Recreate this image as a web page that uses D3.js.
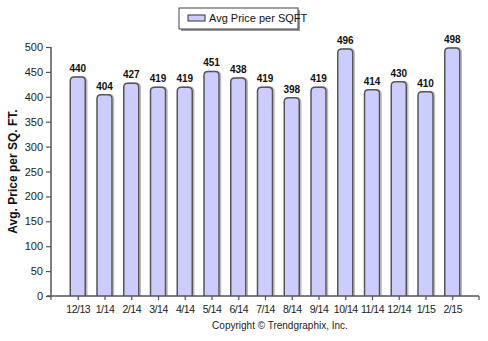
<!DOCTYPE html>
<html><head><meta charset="utf-8">
<script src="https://cdn.jsdelivr.net/npm/d3@7"></script>
<style>body{margin:0;background:#fff}svg{display:block}text{font-family:"Liberation Sans",Arial,sans-serif}</style>
</head><body>
<svg id="c" width="488" height="341"></svg>
<script>
const categories = ["12/13","1/14","2/14","3/14","4/14","5/14","6/14","7/14","8/14","9/14","10/14","11/14","12/14","1/15","2/15"];
const values = [440,404,427,419,419,451,438,419,398,419,496,414,430,410,498];
const yTicks = [0,50,100,150,200,250,300,350,400,450,500];
const seriesName = "Avg Price per SQFT";
const yTitle = "Avg. Price per SQ. FT.";
const copyright = "Copyright \u00A9 Trendgraphix, Inc.";

const svg = d3.select("#c");
const x0 = 51, x1 = 479, yBottom = 296, yTop = 47;
const x = d3.scalePoint().domain(categories).range([x0, x1]).padding(1);
const y = d3.scaleLinear().domain([0,500]).range([yBottom, yTop]);
const axisColor = "#555";

// bars
const bw = 15, r = 4;
function barPath(cx, v){
  const l = cx - bw/2, rr = cx + bw/2, t = y(v), b = y(0);
  return `M${l},${b}V${t+r}Q${l},${t} ${l+r},${t}H${rr-r}Q${rr},${t} ${rr},${t+r}V${b}`;
}
svg.append("g").selectAll("path").data(values).join("path")
  .attr("d",(d,i)=>barPath(x(categories[i])+1.5,d))
  .attr("fill","none").attr("stroke","#bbb").attr("stroke-width",1.5);
svg.append("g").selectAll("path").data(values).join("path")
  .attr("d",(d,i)=>barPath(x(categories[i]),d))
  .attr("fill","#ccccff").attr("stroke","#555").attr("stroke-width",1.5);

// value labels
svg.append("g").selectAll("text").data(values).join("text")
  .attr("x",(d,i)=>x(categories[i])).attr("y",d=>y(d)-5)
  .attr("text-anchor","middle").attr("font-size",10).attr("font-weight","bold").attr("fill","#111")
  .text(d=>d);

// y axis
const ya = svg.append("g").attr("transform",`translate(${x0},0)`)
  .call(d3.axisLeft(y).tickValues(yTicks).tickSize(5).tickPadding(3));
ya.select(".domain").attr("stroke",axisColor).attr("stroke-width",1.5).attr("d",`M0,${yBottom}V${yTop}`);
ya.selectAll(".tick line").attr("stroke",axisColor).attr("stroke-width",1.2);
ya.selectAll(".tick text").attr("font-size",11).attr("fill","#222").style("font-family","'Liberation Sans',Arial,sans-serif");

// x axis
const xa = svg.append("g").attr("transform",`translate(0,${yBottom})`)
  .call(d3.axisBottom(x).tickSize(4).tickPadding(6));
xa.select(".domain").attr("stroke",axisColor).attr("stroke-width",1.5).attr("d",`M${x0-4},0H${x1}`);
xa.selectAll(".tick line").attr("stroke",axisColor).attr("stroke-width",1.2);
xa.selectAll(".tick text").attr("font-size",10.5).attr("letter-spacing","-0.5px").attr("fill","#222").style("font-family","'Liberation Sans',Arial,sans-serif");
xa.append("line").attr("x1",x0).attr("x2",x0).attr("y1",0).attr("y2",4).attr("stroke",axisColor).attr("stroke-width",1.2);
xa.append("line").attr("x1",x1).attr("x2",x1).attr("y1",0).attr("y2",4).attr("stroke",axisColor).attr("stroke-width",1.2);

// y title
svg.append("text").attr("transform",`translate(17,${(yTop+yBottom)/2}) rotate(-90)`)
  .attr("text-anchor","middle").attr("font-size",12).attr("font-weight","bold").attr("fill","#111")
  .text(yTitle);

// legend
const lg = svg.append("g");
lg.append("rect").attr("x",181).attr("y",10).attr("width",119).attr("height",21).attr("fill","#999");
lg.append("rect").attr("x",179).attr("y",8).attr("width",119).attr("height",21).attr("fill","#fff").attr("stroke","#444").attr("stroke-width",1);
lg.append("rect").attr("x",188).attr("y",15).attr("width",17).attr("height",6).attr("fill","#ccccff").attr("stroke","#333").attr("stroke-width",1);
lg.append("text").attr("x",209).attr("y",22).attr("font-size",11).attr("fill","#111").text(seriesName);

// copyright
svg.append("text").attr("x",280).attr("y",329).attr("text-anchor","middle").attr("font-size",10).attr("fill","#222").text(copyright);
</script>
</body></html>
